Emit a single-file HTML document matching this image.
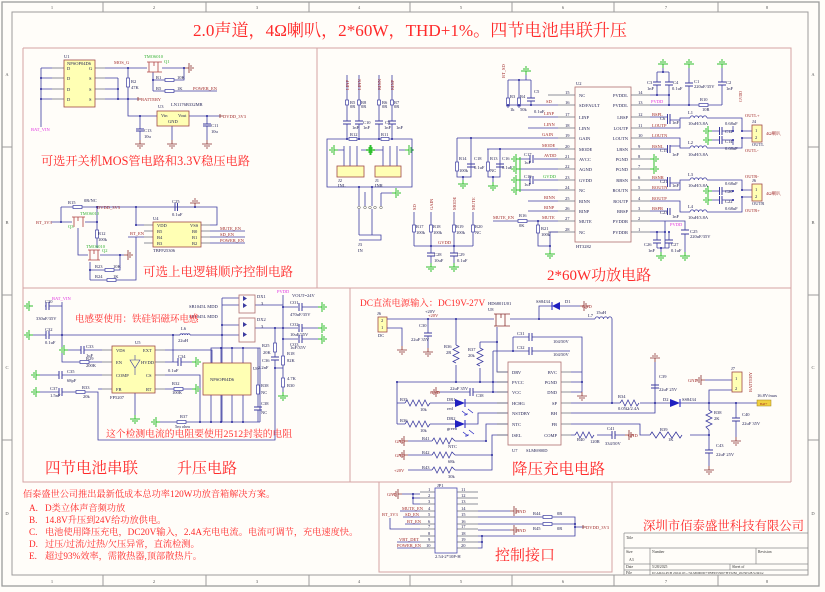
<!DOCTYPE html>
<html><head><meta charset="utf-8">
<style>
html,body{margin:0;padding:0;background:#fffdf9;}
svg{display:block;}
text{font-family:"Liberation Serif","Noto Serif CJK SC",serif;}
.w{stroke:#3c3ca0;fill:none;stroke-width:0.8}
.p{stroke:#6a6a7a;fill:none;stroke-width:0.7}
.bx{stroke:#d4a4a4;fill:none;stroke-width:1}
.fr{stroke:#9c9c9c;fill:none}
.s{fill:#1a1a50;font-size:4.5px}
.n{fill:#a02828;font-size:4.5px}
.g{fill:#30b030;font-size:4.5px}
.m{fill:#e030e0;font-size:4.5px}
.r{fill:#ff2a2a}
.ic{fill:#ffffb4;stroke:#a04848;stroke-width:0.8}
.icw{fill:#fffdf9;stroke:#b07070;stroke-width:0.8}
.res{fill:#fff;stroke:#3c3ca0;stroke-width:0.7}
.cp{stroke:#3c3ca0;stroke-width:1;fill:none}
.d{fill:#22229a}
</style></head><body>
<svg width="825" height="592" viewBox="0 0 825 592" xmlns="http://www.w3.org/2000/svg">
<defs>
<g id="gd" stroke="#8a3030" stroke-width="0.8" fill="none"><path d="M0 0V4M-5 4H5M-3 6H3M-1 8H1"/></g>
<g id="gg" stroke="#30c030" stroke-width="1" fill="none"><path d="M0 0V4M-5 4H5M-3 6H3M-1 8H1"/></g>
</defs>
<rect width="825" height="592" fill="#fffdf9"/>
<!-- frame -->
<rect x="2" y="2" width="817" height="584" class="fr" stroke-width="1.3"/>
<rect x="12" y="12" width="796" height="563" class="fr"/>
<path class="fr" d="M103 2V12M206 2V12M309 2V12M410 2V12M512 2V12M614 2V12M718 2V12M103 575V586M206 575V586M309 575V586M410 575V586M512 575V586M614 575V586M718 575V586M2 147H12M2 295H12M2 440H12M808 147H819M808 295H819M808 440H819"/>
<g font-size="4.5" fill="#555" text-anchor="middle">
<text x="52" y="9">1</text><text x="154" y="9">2</text><text x="257" y="9">3</text><text x="359" y="9">4</text><text x="461" y="9">5</text><text x="563" y="9">6</text><text x="666" y="9">7</text><text x="767" y="9">8</text>
<text x="52" y="583">1</text><text x="154" y="583">2</text><text x="257" y="583">3</text><text x="359" y="583">4</text><text x="461" y="583">5</text><text x="563" y="583">6</text><text x="666" y="583">7</text><text x="767" y="583">8</text>
<text x="7" y="76">A</text><text x="7" y="224">B</text><text x="7" y="369">C</text><text x="7" y="515">D</text>
<text x="813" y="76">A</text><text x="813" y="224">B</text><text x="813" y="369">C</text><text x="813" y="515">D</text>
</g>
<!-- section boxes -->
<path class="bx" d="M23 48H791V482M317 48V288M23 48V482H350V288M23 288H791M350 482H791"/>
<rect x="379" y="482" width="233" height="90" class="bx"/>

<!-- main title -->
<text x="193" y="36" font-size="17.1" class="r">2.0声道，4Ω喇叭，2*60W，THD+1%。四节电池串联升压</text>

<!-- ============ SECTION 1 ============ -->
<rect x="64" y="60" width="31" height="47" class="ic"/>
<text x="64" y="58" class="s">U1</text>
<text x="67" y="65" class="s" font-size="3.6">NPSOP04D6</text>
<g class="s" font-size="4"><text x="67" y="70">D</text><text x="67" y="80">D</text><text x="67" y="91">D</text><text x="67" y="101">D</text><text x="89" y="70">G</text><text x="89" y="80">S</text><text x="89" y="91">S</text><text x="89" y="101">S</text></g>
<path class="p" d="M52 68H64M52 78H64M52 89H64M52 99H64M95 68H105M95 78H105M95 89H105M95 99H105"/>
<path class="w" d="M41 68H52M41 78H52M41 89H52M41 99H52M41 68V127M105 68H147M105 78H118M105 89H118M105 99H138M118 78V99M128 68V78M128 87V116H157M153 72V91M153 80H165M174 80H184V68M153 91H165M174 91H217M162 68H185M189 116H220M140 116V129M140 131V140M172 126V140M207 116V124M207 126V140"/>
<rect x="126.5" y="78" width="3" height="9" class="res"/>
<rect x="165" y="78.5" width="9" height="3" class="res"/>
<rect x="165" y="89.5" width="9" height="3" class="res"/>
<path class="cp" d="M136 129H144M136 131H144M203 124H211M203 126H211"/>
<path stroke="#b04040" fill="none" stroke-width="0.8" d="M147 62H162M149 62V72M154 62V66M158 62V72M147 72H162"/>
<text x="144" y="58" class="g" font-size="3.5">TMO6010</text><text x="164" y="63" class="g">Q1</text>
<g class="d"><circle cx="41" cy="78" r="1"/><circle cx="41" cy="89" r="1"/><circle cx="41" cy="99" r="1"/><circle cx="118" cy="89" r="1"/><circle cx="118" cy="99" r="1"/><circle cx="128" cy="68" r="1"/><circle cx="128" cy="99" r="1"/><circle cx="184" cy="68" r="1"/><circle cx="140" cy="116" r="1"/><circle cx="207" cy="116" r="1"/><circle cx="153" cy="80" r="1"/></g>
<use href="#gd" transform="translate(185,68) rotate(-90)"/>
<use href="#gd" transform="translate(140,140)"/><use href="#gd" transform="translate(172,140)"/><use href="#gd" transform="translate(207,140)"/>
<text x="114" y="64" class="n">MOS_G</text><text x="131" y="83" class="s">R2</text><text x="131" y="89" class="s">47K</text>
<text x="156" y="79" class="s">R1</text><text x="177" y="79" class="s">10K</text><text x="156" y="90" class="s">R5</text><text x="177" y="90" class="s">1K</text>
<text x="193" y="90" class="n">POWER_EN</text>
<path d="M138 97V101M138 99H141" stroke="#8a3030" stroke-width="0.8"/><text x="141" y="101" class="n">BATTERY</text>
<rect x="157" y="111" width="32" height="15" class="ic"/>
<text x="158" y="108" class="s" font-size="4">U3</text><text x="171" y="106" class="s" font-size="4">LN1176B332MR</text>
<text x="161" y="117" class="s" font-size="3.8">Vin</text><text x="178" y="117" class="s" font-size="3.8">Vout</text><text x="168" y="123" class="s" font-size="3.8">GND</text>
<path d="M220 114V118M220 116H223" stroke="#8a3030" stroke-width="0.8"/><text x="223" y="118" class="n">DVDD_3V3</text>
<text x="144" y="132" class="s">C13</text><text x="144" y="138" class="s">10u</text><text x="211" y="127" class="s">C11</text><text x="211" y="133" class="s">10u</text>
<text x="31" y="131" class="m">BAT_VIN</text>
<text x="41" y="165" font-size="12.2" class="r">可选开关机MOS管电路和3.3V稳压电路</text>

<!-- ============ SECTION 2 ============ -->
<path class="w" d="M61 207H73M82 207H97M61 207V222M51 222H72M85 222H97M97 207V230M97 238V248M97 207H217V225H210M136 207V225H144M128 237H144M210 231H245M210 237H245M210 243H245M78 228V255H88M100 255H124M90 262V280M90 270H105M114 270H120V255M90 280H107M116 280H136V237"/>
<path class="p" d="M144 225H153M144 231H153M144 237H153M144 243H153M201 225H210M201 231H210M201 237H210M201 243H210"/>
<rect x="73" y="205.5" width="9" height="3" class="res"/>
<rect x="95.5" y="230" width="3" height="8" class="res"/>
<rect x="105" y="268.5" width="9" height="3" class="res"/>
<rect x="107" y="278.5" width="9" height="3" class="res"/>
<path class="cp" d="M175 203V211M177.5 203V211"/>
<path stroke="#b04040" fill="none" stroke-width="0.8" d="M72 217H85M74 217V227M78 217V221M83 217V227M88 250H100M90 250V260M94 250V254M98 250V260M88 260H100"/>
<rect x="153" y="222" width="48" height="25" class="ic"/>
<g class="s" font-size="4"><text x="157" y="227">VDD</text><text x="157" y="233">B5</text><text x="157" y="239">B4</text><text x="157" y="245">B3</text><text x="190" y="227">VSS</text><text x="192" y="233">B0</text><text x="192" y="239">B1</text><text x="192" y="245">B2</text></g>
<text x="153" y="220" class="s" font-size="4">U4</text><text x="153" y="252" class="s" font-size="4">TBFP25306</text>
<use href="#gd" transform="translate(195,207) rotate(180)"/>
<use href="#gd" transform="translate(124,255) rotate(-90)"/>
<g class="d"><circle cx="97" cy="207" r="1"/><circle cx="97" cy="222" r="1"/><circle cx="136" cy="207" r="1"/><circle cx="136" cy="225" r="1"/><circle cx="61" cy="222" r="1"/><circle cx="90" cy="270" r="1"/><circle cx="120" cy="255" r="1"/><circle cx="195" cy="207" r="1"/></g>
<text x="68" y="204" class="s">R15</text><text x="84" y="202" class="s">0R/NC</text><text x="36" y="224" class="n">BT_3V3</text>
<text x="97" y="209" class="n">DVDD_3V3</text><text x="98" y="235" class="s">R12</text><text x="98" y="241" class="s">100k</text>
<text x="172" y="203" class="s">C25</text><text x="172" y="216" class="s">0.1uF</text>
<text x="130" y="235" class="n">BT_EN</text>
<text x="220" y="230" class="n">MUTE_EN</text><text x="220" y="236" class="n">SD_EN</text><text x="220" y="242" class="n">POWER_EN</text>
<text x="80" y="215" class="g" font-size="3.5">TMO6010</text><text x="68" y="228" class="g">Q3</text>
<text x="86" y="248" class="g" font-size="3.5">TMO6010</text><text x="102" y="252" class="g">Q2</text>
<text x="95" y="268" class="s">R23</text><text x="113" y="268" class="s">10K</text><text x="95" y="278" class="s">R24</text><text x="113" y="278" class="s">1K</text>
<text x="143" y="276" font-size="12.5" class="r">可选上电逻辑顺序控制电路</text>

<!-- ============ SECTION 3 ============ -->
<path class="w" d="M347 75V100M347 105V121M347 124V139M359 75V100M359 105V121M359 124V139M379 75V100M379 105V121M379 124V139M392 75V100M392 105V121M392 124V139M327 139H412V187H327ZM344 146V166M350 146V166M357 146V166M383 146V166M390 146V166M397 146V166M338 150H344M361 150H366M375 150H383M399 150H405M359 187V206M372 187V206M365 192V206M381 193H392M381 193V206M359 209V235M372 209V235M359 235H381V240H359"/>
<g class="res"><rect x="345.5" y="100" width="3" height="5"/><rect x="357.5" y="100" width="3" height="5"/><rect x="377.5" y="100" width="3" height="5"/><rect x="390.5" y="100" width="3" height="5"/><rect x="349" y="137.5" width="8" height="3"/><rect x="381" y="137.5" width="8" height="3"/></g>
<path class="cp" d="M343 121H351M343 124H351M355 121H363M355 124H363M375 121H383M375 124H383M388 121H396M388 124H396"/>
<rect x="337" y="166" width="27" height="11" class="ic"/><rect x="375" y="166" width="26" height="11" class="ic"/>
<use href="#gg" transform="translate(338,150) rotate(90)"/><use href="#gg" transform="translate(366,150) rotate(-90)"/>
<use href="#gg" transform="translate(375,150) rotate(90)"/><use href="#gg" transform="translate(405,150) rotate(-90)"/>
<use href="#gg" transform="translate(392,193) rotate(-90)"/>
<g fill="none" stroke="#555" stroke-width="0.5"><circle cx="359" cy="207.5" r="1.3"/><circle cx="365" cy="207.5" r="1.3"/><circle cx="370" cy="207.5" r="1.3"/><circle cx="375" cy="207.5" r="1.3"/><circle cx="381" cy="207.5" r="1.3"/></g>
<g class="n" font-size="3.8"><text transform="translate(349,90) rotate(-90)">LINP</text><text transform="translate(361,90) rotate(-90)">LINN</text><text transform="translate(381,90) rotate(-90)">RINN</text><text transform="translate(394,90) rotate(-90)">RINP</text></g>
<g class="s" font-size="3.8"><text x="350" y="104">R5</text><text x="350" y="108">0R</text><text x="361" y="104">R8</text><text x="361" y="108">0R</text><text x="382" y="104">R6</text><text x="382" y="108">0R</text><text x="394" y="104">R7</text><text x="394" y="108">0R</text>
<text x="363" y="124">C10</text><text x="352" y="129">1nF</text><text x="363" y="129">1nF</text><text x="385" y="124">C9</text><text x="384" y="129">1nF</text><text x="396" y="129">1nF</text>
<text x="350" y="136">R12</text><text x="381" y="136">R11</text><text x="338" y="182">J2</text><text x="338" y="187">INL</text><text x="375" y="182">J1</text><text x="375" y="187">INR</text><text x="358" y="246">J3</text><text x="358" y="252">IN</text></g>
<g class="d"><circle cx="347" cy="139" r="1"/><circle cx="359" cy="139" r="1"/><circle cx="379" cy="139" r="1"/><circle cx="392" cy="139" r="1"/><circle cx="359" cy="187" r="1"/><circle cx="372" cy="187" r="1"/></g>

<!-- U2 -->
<rect x="575" y="87" width="56" height="155" class="icw"/>
<text x="576" y="85" class="s">U2</text><text x="576" y="248" class="s">HT3282</text>
<path class="p" d="M548 95H575M558 105H575M558 117H575M558 128H575M558 138H575M558 149H575M558 159H575M558 169H575M558 180H575M558 190H575M558 201H575M558 211H575M558 221H575M548 232H575M631 95H650M631 105H650M631 117H650M631 128H650M631 138H650M631 149H650M631 159H650M631 169H650M631 180H650M631 190H650M631 201H650M631 211H650M631 221H650M631 232H650"/>
<g class="s" font-size="4.2"><text x="579" y="97">NC</text><text x="579" y="107">SD/FAULT</text><text x="579" y="119">LINP</text><text x="579" y="130">LINN</text><text x="579" y="140">GAIN</text><text x="579" y="151">MODE</text><text x="579" y="161">AVCC</text><text x="579" y="171">AGND</text><text x="579" y="182">GVDD</text><text x="579" y="192">NC</text><text x="579" y="203">RINN</text><text x="579" y="213">RINP</text><text x="579" y="223">MUTE</text><text x="579" y="234">NC</text></g>
<g class="s" font-size="4.2" text-anchor="end"><text x="628" y="97">PVDDL</text><text x="628" y="107">PVDDL</text><text x="628" y="119">LBSP</text><text x="628" y="130">LOUTP</text><text x="628" y="140">LOUTN</text><text x="628" y="151">LBSN</text><text x="628" y="161">PGND</text><text x="628" y="171">PGND</text><text x="628" y="182">RBSN</text><text x="628" y="192">ROUTN</text><text x="628" y="203">ROUTP</text><text x="628" y="213">RBSP</text><text x="628" y="223">PVDDR</text><text x="628" y="234">PVDDR</text></g>
<g class="s" font-size="3.5"><text x="565" y="94">15</text><text x="565" y="104">16</text><text x="565" y="116">17</text><text x="565" y="127">18</text><text x="565" y="137">19</text><text x="565" y="148">20</text><text x="565" y="158">21</text><text x="565" y="168">22</text><text x="565" y="179">23</text><text x="565" y="189">24</text><text x="565" y="200">25</text><text x="565" y="210">26</text><text x="565" y="220">27</text><text x="565" y="231">28</text>
<text x="638" y="94">14</text><text x="638" y="104">13</text><text x="638" y="116">12</text><text x="638" y="127">11</text><text x="638" y="137">10</text><text x="638" y="148">9</text><text x="638" y="158">8</text><text x="638" y="168">7</text><text x="638" y="179">6</text><text x="638" y="189">5</text><text x="638" y="200">4</text><text x="638" y="210">3</text><text x="638" y="220">2</text><text x="638" y="231">1</text></g>
<!-- left networks -->
<path class="w" d="M507 105H558M508 80V100M508 108V105M519 80V100M519 108V105M531 80V98M531 101V105M508 80H531M526 80V75M528 117H558M528 128H558M457 138H558M457 138V162M457 171V177H471V138M471 138V164M471 167V177M463 177V180M487 149H558M488 149V162M488 171V177H500V149M500 167V177M493 177V182M520 159H530M534 159H558M520 169H558M520 180H530M534 180H558M520 190H558M528 201H558M528 211H558M493 221H518M527 221H558M538 221V225M538 233V246H550V232H558M550 246V250"/>
<g class="res"><rect x="506.5" y="98" width="3" height="8"/><rect x="517.5" y="98" width="3" height="8"/><rect x="455.5" y="162" width="3" height="9"/><rect x="486.5" y="162" width="3" height="9"/><rect x="518" y="219.5" width="9" height="3"/><rect x="536.5" y="225" width="3" height="8"/></g>
<path class="cp" d="M527 98H535M527 101H535M467 164H475M467 167H475M496 164H504M496 167H504M530 155V163M533 155V163M530 176V184M533 176V184"/>
<use href="#gg" transform="translate(526,75) rotate(180)"/>
<use href="#gg" transform="translate(463,180)"/><use href="#gg" transform="translate(493,182)"/><use href="#gg" transform="translate(550,250)"/>
<use href="#gg" transform="translate(520,159) rotate(90)"/><use href="#gg" transform="translate(520,169) rotate(90)"/><use href="#gg" transform="translate(520,180) rotate(90)"/><use href="#gg" transform="translate(520,190) rotate(90)"/>
<path stroke="#30c030" stroke-width="1" d="M520 157V192"/>
<g class="d"><circle cx="508" cy="105" r="1"/><circle cx="519" cy="105" r="1"/><circle cx="531" cy="105" r="1"/><circle cx="519" cy="80" r="1"/><circle cx="471" cy="138" r="1"/><circle cx="500" cy="149" r="1"/><circle cx="463" cy="177" r="1"/><circle cx="493" cy="177" r="1"/><circle cx="538" cy="221" r="1"/><circle cx="550" cy="246" r="1"/></g>
<g class="n" font-size="4.2"><text transform="translate(505,78) rotate(-90)">BT_SD</text><text x="546" y="103">SD</text><text x="544" y="115">LINP</text><text x="544" y="126">LINN</text><text x="542" y="136">GAIN</text><text x="542" y="147">MODE</text><text x="544" y="157">AVDD</text><text x="544" y="199">RINN</text><text x="544" y="209">RINP</text><text x="542" y="219">MUTE</text><text x="493" y="219">MUTE_EN</text></g>
<text x="543" y="178" class="g" font-size="4.2">GVDD</text>
<g class="s" font-size="3.8"><text x="510" y="98">R3</text><text x="510" y="111">1k</text><text x="520" y="98">R4</text><text x="520" y="111">50k</text><text x="534" y="93">C5</text><text x="534" y="113">0.1uF</text>
<text x="459" y="160">R14</text><text x="459" y="172">100k</text><text x="474" y="160">C18</text><text x="474" y="169">0.1uF</text><text x="490" y="160">R13</text><text x="490" y="172">NC</text><text x="502" y="160">C16</text><text x="502" y="169">0.1uF</text>
<text x="524" y="156">C17</text><text x="524" y="164">1uF</text><text x="524" y="178">C19</text><text x="524" y="186">1uF</text><text x="519" y="217">R16</text><text x="519" y="227">0K</text><text x="541" y="230">R21</text><text x="541" y="236">100k</text></g>
<!-- bottom left resistors -->
<path class="w" d="M414 212V225M414 232V246M431 212V225M431 232V246M454 212V225M454 232V246M473 212V225M473 232V246M414 246H473M431 246V253M431 256V263M454 246V253M454 256V263"/>
<g class="res"><rect x="412.5" y="225" width="3" height="7"/><rect x="429.5" y="225" width="3" height="7"/><rect x="452.5" y="225" width="3" height="7"/><rect x="471.5" y="225" width="3" height="7"/></g>
<path class="cp" d="M427 253H435M427 256H435M450 253H458M450 256H458"/>
<use href="#gg" transform="translate(431,263)"/><use href="#gg" transform="translate(454,263)"/>
<g class="d"><circle cx="431" cy="246" r="1"/><circle cx="454" cy="246" r="1"/></g>
<g class="n" font-size="3.8"><text transform="translate(416,210) rotate(-90)">SD</text><text transform="translate(433,210) rotate(-90)">GAIN</text><text transform="translate(456,210) rotate(-90)">MODE</text><text transform="translate(475,210) rotate(-90)">MUTE</text><text x="438" y="244">GVDD</text></g>
<g class="s" font-size="3.8"><text x="416" y="228">R17</text><text x="416" y="234">100k</text><text x="433" y="228">R18</text><text x="433" y="234">100k</text><text x="456" y="228">R19</text><text x="456" y="234">100k</text><text x="475" y="228">R20</text><text x="475" y="234">NC</text>
<text x="434" y="256">C28</text><text x="434" y="262">10uF</text><text x="457" y="256">C29</text><text x="457" y="262">0.1uF</text></g>
<!-- right networks -->
<path class="w" d="M650 95H669M650 105H722M657 72V82M657 85V95M669 72V82M669 85V105M657 72H669M663 72V68M689 68V83M689 86V105M722 68V82M722 85V105M650 117H667M670 120H680M650 128H680V118H690M707 118H742V131H752M650 138H680V148H690M707 148H742V138H752M650 149H667M670 146H680M712 131H719M722 131H733M712 140H719M722 140H733M733 131V126M733 140V145M650 180H667M670 183H680M650 190H680V180H690M707 180H742V190H752M650 201H680V212H690M707 212H742V197H752M650 211H667M712 191H719M722 191H733M712 200H719M722 200H733M650 221H665M650 232H665M665 221V248M657 232V240M657 243V248M669 232V240M669 243V248M657 248H669M661 248V252M665 221H685V230M685 234V252"/>
<rect x="699" y="103.5" width="9" height="3" class="res"/>
<path class="cp" d="M653 82H661M653 85H661M665 82H673M665 85H673M685 83H693M685 86H693M718 82H726M718 85H726M667.5 114V124M670 114V124M667.5 145V153M670 145V153M667.5 177V187M670 177V187M667.5 208V215M670 208V215M719.5 127V135M722 127V135M719.5 136V144M722 136V144M719.5 187V195M722 187V195M719.5 196V204M722 196V204M653 240H661M653 243H661M665 240H673M665 243H673M681 230H689M681 234H689"/>
<g fill="none" stroke="#3c3ca0" stroke-width="0.8"><path d="M690 118a2.1 2.1 0 0 1 4.25 0a2.1 2.1 0 0 1 4.25 0a2.1 2.1 0 0 1 4.25 0a2.1 2.1 0 0 1 4.25 0"/><path d="M690 148a2.1 2.1 0 0 1 4.25 0a2.1 2.1 0 0 1 4.25 0a2.1 2.1 0 0 1 4.25 0a2.1 2.1 0 0 1 4.25 0"/><path d="M690 180a2.1 2.1 0 0 1 4.25 0a2.1 2.1 0 0 1 4.25 0a2.1 2.1 0 0 1 4.25 0a2.1 2.1 0 0 1 4.25 0"/><path d="M690 212a2.1 2.1 0 0 1 4.25 0a2.1 2.1 0 0 1 4.25 0a2.1 2.1 0 0 1 4.25 0a2.1 2.1 0 0 1 4.25 0"/></g>
<use href="#gg" transform="translate(663,68) rotate(180)"/><use href="#gg" transform="translate(689,68) rotate(180)"/><use href="#gg" transform="translate(722,68) rotate(180)"/>
<use href="#gg" transform="translate(712,131) rotate(90)"/><use href="#gg" transform="translate(712,140) rotate(90)"/><use href="#gg" transform="translate(712,191) rotate(90)"/><use href="#gg" transform="translate(712,200) rotate(90)"/>
<use href="#gg" transform="translate(650,159) rotate(-90)"/><use href="#gg" transform="translate(650,169) rotate(-90)"/>
<use href="#gg" transform="translate(661,252)"/><use href="#gg" transform="translate(685,252)"/>
<rect x="752" y="125" width="10" height="17" class="ic"/><rect x="752" y="184" width="10" height="17" class="ic"/>
<g class="s" font-size="3.8"><text x="755" y="132">1</text><text x="755" y="139">2</text><text x="755" y="191">1</text><text x="755" y="198">2</text><text x="752" y="123">J4</text><text x="752" y="146">OUTL</text><text x="752" y="182">J6</text><text x="752" y="205">OUTR</text>
<text x="647" y="84">C3</text><text x="647" y="90">1nF</text><text x="673" y="84">C4</text><text x="672" y="90">0.1uF</text><text x="694" y="83">C1</text><text x="694" y="88">220uF/35V</text><text x="726" y="84">C2</text><text x="726" y="90">1nF</text><text x="700" y="101">R10</text><text x="702" y="111">10R</text>
<text x="660" y="120">C6</text><text x="672" y="124">1nF</text><text x="688" y="114">L1</text><text x="688" y="125">10uH/3.8A</text><text x="688" y="144">L2</text><text x="688" y="156">10uH/3.8A</text><text x="725" y="125">0.68uF</text><text x="725" y="133">C12</text><text x="725" y="143">C14</text><text x="725" y="150">0.68uF</text>
<text x="660" y="152">C15</text><text x="672" y="156">1nF</text><text x="660" y="183">C21</text><text x="672" y="187">1nF</text><text x="688" y="176">L3</text><text x="688" y="187">10uH/3.8A</text><text x="688" y="208">L4</text><text x="688" y="219">10uH/3.8A</text><text x="725" y="185">0.68uF</text><text x="725" y="193">C20</text><text x="725" y="203">C22</text><text x="725" y="210">0.68uF</text>
<text x="660" y="214">C23</text><text x="672" y="218">1nF</text><text x="644" y="246">C26</text><text x="648" y="252">1nF</text><text x="671" y="246">C27</text><text x="671" y="252">0.1uF</text><text x="690" y="233">C25</text><text x="690" y="238">220uF/35V</text></g>
<g class="n" font-size="4"><text x="652" y="116">BSPL</text><text x="652" y="127">LOUTP</text><text x="652" y="137">LOUTN</text><text x="652" y="148">BSNL</text><text x="652" y="179">BSNR</text><text x="652" y="189">ROUTN</text><text x="652" y="200">ROUTP</text><text x="652" y="210">BSPR</text>
<text x="745" y="117">OUTL+</text><text x="745" y="152">OUTL-</text><text x="745" y="178">OUTR-</text><text x="745" y="212">OUTR+</text><text transform="translate(742,102) rotate(-90)" font-size="3.8">GVDD</text></g>
<text x="766" y="135" class="n" font-size="4.2">4Ω喇叭</text><text x="766" y="195" class="n" font-size="4.2">4Ω喇叭</text>
<text x="651" y="103" class="m">PVDD</text><text x="670" y="226" class="m">PVDD</text>
<g class="d"><circle cx="657" cy="95" r="1"/><circle cx="669" cy="95" r="1"/><circle cx="669" cy="105" r="1"/><circle cx="689" cy="105" r="1"/><circle cx="663" cy="72" r="1"/><circle cx="742" cy="131" r="1"/><circle cx="742" cy="138" r="1"/><circle cx="733" cy="131" r="1"/><circle cx="733" cy="140" r="1"/><circle cx="742" cy="190" r="1"/><circle cx="742" cy="197" r="1"/><circle cx="733" cy="191" r="1"/><circle cx="733" cy="200" r="1"/><circle cx="665" cy="232" r="1"/><circle cx="657" cy="232" r="1"/><circle cx="669" cy="232" r="1"/><circle cx="661" cy="248" r="1"/></g>
<text x="547" y="280" font-size="15" class="r">2*60W功放电路</text>

<!-- ============ SECTION 4 (boost) ============ -->
<text x="52" y="300" class="m">BAT_VIN</text>
<path class="w" d="M62 302V362H80M89 362H102M45 306H46M49 306H62M33 335H46M49 335H180M190 335H222M68 350H81M84 350H102M40 375H59M62 375H102M40 392H59M62 392H76M85 392H98V440H275V368M98 389H102M165 350H212V363M165 362H173V335M165 362H178M181 362H192M165 375H200V422M165 389H174M183 389H192M135 393V415M222 298H239M222 305H239M222 325H239M222 335H239M222 298V422M255 305H283M255 328H283M283 295V346M283 307H298M302 307H318M283 328H298M302 328H318M283 339H298M302 339H318M275 328V343M275 352V357M275 360V440M275 368H283M283 356V365M283 346V356M283 365V378M283 387V392M160 422H177M186 422H260M211 363V348H260V422M221 348V363M232 348V363M243 348V363M211 395V422M221 395V422M232 395V422M243 395V422M258 348V385M258 394V407M258 410V422"/>
<path class="p" d="M102 350H112M102 362H112M102 375H112M102 389H112M155 350H165M155 362H165M155 375H165M155 389H165"/>
<g class="res"><rect x="80" y="360.5" width="9" height="3"/><rect x="76" y="390.5" width="9" height="3"/><rect x="174" y="387.5" width="9" height="3"/><rect x="273.5" y="343" width="3" height="9"/><rect x="281.5" y="356" width="3" height="9"/><rect x="281.5" y="378" width="3" height="9"/><rect x="177" y="420.5" width="9" height="3"/><rect x="256.5" y="385" width="3" height="9"/></g>
<path class="cp" d="M46 302V310M49 302V310M46 331V339M49 331V339M81 346V354M84 346V354M59 371V379M62 371V379M59 388V396M62 388V396M178 358V366M181 358V366M299 303V311M302 303V311M299 324V332M302 324V332M299 335V343M302 335V343M271 357H279M271 360H279M254 407H262M254 410H262"/>
<path fill="none" stroke="#3c3ca0" stroke-width="0.8" d="M180 335a1.25 1.25 0 0 1 2.5 0a1.25 1.25 0 0 1 2.5 0a1.25 1.25 0 0 1 2.5 0a1.25 1.25 0 0 1 2.5 0"/>
<use href="#gg" transform="translate(33,306) rotate(90)"/><use href="#gg" transform="translate(33,335) rotate(90)"/><use href="#gg" transform="translate(68,350) rotate(90)"/><use href="#gg" transform="translate(40,375) rotate(90)"/><use href="#gg" transform="translate(40,392) rotate(90)"/>
<use href="#gg" transform="translate(192,362) rotate(-90)"/><use href="#gg" transform="translate(192,389) rotate(-90)"/><use href="#gg" transform="translate(135,415)"/><use href="#gg" transform="translate(160,422) rotate(90)"/>
<use href="#gg" transform="translate(318,307) rotate(-90)"/><use href="#gg" transform="translate(318,328) rotate(-90)"/><use href="#gg" transform="translate(318,339) rotate(-90)"/><use href="#gg" transform="translate(283,392)"/>
<rect x="112" y="346" width="43" height="47" class="ic"/>
<g class="s" font-size="4.2"><text x="116" y="352">VDS</text><text x="116" y="364">EN</text><text x="116" y="377">COMP</text><text x="116" y="391">FB</text><text x="143" y="352">EXT</text><text x="141" y="364">HVDD</text><text x="146" y="377">CS</text><text x="146" y="391">RT</text></g>
<path fill="none" stroke="#3c3ca0" stroke-width="0.6" d="M130 360H140L135 368ZM135 355V360M135 368V375"/>
<text x="135" y="344" class="s" font-size="4">U5</text><text x="110" y="399" class="s" font-size="4">FP5207</text>
<rect x="239" y="295" width="16" height="18" fill="none" stroke="#b07070" stroke-width="0.8"/><rect x="239" y="318" width="16" height="24" fill="none" stroke="#b07070" stroke-width="0.8"/>
<path fill="#3c3ca0" d="M243 296L243 301L247 298.5ZM243 303L243 308L247 305.5ZM243 322L243 327L247 324.5ZM243 332L243 337L247 334.5Z"/>
<rect x="203" y="363" width="48" height="32" class="ic"/>
<text x="210" y="381" class="s" font-size="4">NPSOP04D6</text><text x="253" y="370" class="s" font-size="4">U6</text>
<g class="d"><circle cx="62" cy="335" r="1"/><circle cx="173" cy="335" r="1"/><circle cx="222" cy="335" r="1"/><circle cx="222" cy="325" r="1"/><circle cx="283" cy="307" r="1"/><circle cx="283" cy="328" r="1"/><circle cx="283" cy="339" r="1"/><circle cx="275" cy="328" r="1"/><circle cx="275" cy="368" r="1"/><circle cx="200" cy="422" r="1"/><circle cx="211" cy="422" r="1"/><circle cx="221" cy="422" r="1"/><circle cx="232" cy="422" r="1"/><circle cx="243" cy="422" r="1"/><circle cx="221" cy="348" r="1"/><circle cx="232" cy="348" r="1"/><circle cx="243" cy="348" r="1"/></g>
<g class="s" font-size="3.8"><text x="45" y="303">C30</text><text x="36" y="320">330uF/35V</text><text x="45" y="331">C32</text><text x="45" y="344">0.1uF</text><text x="86" y="348">C33</text><text x="86" y="357">1uF</text><text x="86" y="360">R29</text><text x="86" y="367">200K</text><text x="67" y="373">C35</text><text x="67" y="382">68pF</text><text x="50" y="390">C37</text><text x="50" y="397">1.5nF</text><text x="82" y="389">R33</text><text x="83" y="398">20k</text>
<text x="181" y="330">L6</text><text x="178" y="342">22uH</text><text x="178" y="358">C34</text><text x="168" y="372">0.1uF</text><text x="172" y="385">R32</text><text x="172" y="394">100K</text><text x="180" y="418">R37</text><text x="175" y="428">5m ohm</text>
<text x="189" y="308">SB1045L MDD</text><text x="189" y="318">SB1045L MDD</text><text x="257" y="298">DX1</text><text x="257" y="321">DX2</text><text x="261" y="305">3</text><text x="261" y="328">3</text>
<text x="292" y="297">VOUT=24V</text><text x="290" y="304">CO1</text><text x="290" y="316">470uF/35V</text><text x="290" y="326">CO2</text><text x="290" y="336">10uF/35V</text><text x="290" y="346">CO3</text><text x="290" y="349">1uF/35V</text>
<text x="262" y="347">R25</text><text x="263" y="354">20K</text><text x="262" y="362">C36</text><text x="258" y="369">2.2nF</text><text x="287" y="355">R18</text><text x="287" y="362">82K</text><text x="287" y="380">4.7K</text><text x="287" y="387">R30</text>
<text x="261" y="387">R38</text><text x="261" y="394">NC</text><text x="261" y="405">C38</text><text x="261" y="414">NC</text></g>
<text x="277" y="293" class="m">PVDD</text>
<text x="75" y="322" font-size="9.5" class="r">电感要使用：铁硅铝磁环电感</text>
<text x="106" y="437" font-size="9.8" class="r">这个检测电流的电阻要使用2512封装的电阻</text>
<text x="45" y="473" font-size="15.5" class="r">四节电池串联</text>
<text x="177" y="473" font-size="15" class="r">升压电路</text>

<!-- ============ SECTION 5 (charger) ============ -->
<text x="360" y="306" font-size="9.3" class="r">DC直流电源输入：DC19V-27V</text>
<rect x="378" y="317" width="9" height="15" class="ic"/>
<g class="s" font-size="3.8"><text x="377" y="315">J6</text><text x="381" y="322">2</text><text x="381" y="329">1</text><text x="378" y="337">DC</text></g>
<path class="w" d="M387 319H494M387 328H402V346M428 319V333M428 336V348M456 319V345M510 319H595M612 319V403M539 319V306H552M560 306H580M480 342H497M497 327V372H508M480 342V348M480 368V382M456 365V382M397 382H508M397 382V424M513 337H529M532 337H582V392M493 351H529M532 351H570M493 351V392M513 337V351M440 392H470M473 392H508M397 403H405M430 403H455M465 403H508M397 424H405M430 424H455M465 424H478V413H508M408 441H432M455 441H486V424H508M408 455H432M455 455H492M408 470H432M455 470H492V435H508M571 372H582M571 382H582M571 392H582M571 403H620M640 403H670M680 403H757M571 413H655V362M571 424H640V435H650M690 435H709M571 435H575M597 435H612M615 435H625M709 403V410M709 430V450M709 453V466M736 403V418M736 421V437M705 380H732M732 390H709V403"/>
<path class="p" d="M497 372H508M497 382H508M497 392H508M497 403H508M497 413H508M497 424H508M497 435H508M561 372H571M561 382H571M561 392H571M561 403H571M561 413H571M561 424H571M561 435H571"/>
<g fill="none" stroke="#3c3ca0" stroke-width="0.8">
<path d="M456 345l3 1.5l-6 3l6 3l-6 3l6 3l-6 3l3 1.5"/>
<path d="M480 348l3 1.5l-6 3l6 3l-6 3l6 3l-6 3l3 1.5"/>
<path d="M405 403l2 -3l3 6l3 -6l3 6l3 -6l3 6l3 -6l3 6l2 -3"/>
<path d="M405 424l2 -3l3 6l3 -6l3 6l3 -6l3 6l3 -6l3 6l2 -3"/>
<path d="M432 441l2 -3l3 6l3 -6l3 6l3 -6l3 6l3 -6l3 3"/>
<path d="M432 455l2 -3l3 6l3 -6l3 6l3 -6l3 6l3 -6l3 3"/>
<path d="M432 470l2 -3l3 6l3 -6l3 6l3 -6l3 6l3 -6l3 3"/>
<path d="M620 403l2 -3l3 6l3 -6l3 6l3 -6l3 6l2 -3"/>
<path d="M650 435l2 -3l4 6l4 -6l4 6l4 -6l4 6l4 -6l4 6l2 -3"/>
<path d="M575 435l2 -3l3 6l3 -6l3 6l3 -6l3 6l2 -3"/>
<path d="M709 410l3 2l-6 3l6 3l-6 3l6 3l-6 3l3 3"/>
<path d="M595 319a2.1 2.1 0 0 1 4.25 0a2.1 2.1 0 0 1 4.25 0a2.1 2.1 0 0 1 4.25 0a2.1 2.1 0 0 1 4.25 0"/>
</g>
<path class="cp" d="M424 333H432M424 336H432M529 333V341M532 333V341M529 347V355M532 347V355M470 388V396M473 388V396M612 431V439M615 431V439M651 385H659M651 388H659M705 450H713M705 453H713M732 418H740M732 421H740"/>
<path fill="#2020c0" d="M560 302V310L552 306ZM455 399V407L465 403ZM455 420V428L465 424ZM670 399V407L680 403Z"/>
<path stroke="#2020c0" stroke-width="1" d="M552 302V310M465 399V407M465 424V428M465 420V428M680 399V407"/>
<path stroke="#2020c0" stroke-width="0.7" fill="none" d="M462 411l5 4M466 415h-2M467 415v-2M463 432l5 4M467 436h-2M468 436v-2M468 409l5 4M469 430l5 4"/>
<path stroke="#8a3030" stroke-width="0.8" fill="none" d="M494 314H510M496 314V326M501 314V318M505 314V326M494 326H510"/>
<use href="#gd" transform="translate(402,346)"/><use href="#gd" transform="translate(428,348)"/><use href="#gd" transform="translate(580,306) rotate(-90)"/><use href="#gd" transform="translate(582,392)"/><use href="#gd" transform="translate(440,392) rotate(90)"/><use href="#gd" transform="translate(408,441) rotate(90)"/><use href="#gd" transform="translate(408,455) rotate(90)"/><use href="#gd" transform="translate(625,435) rotate(-90)"/><use href="#gd" transform="translate(655,362) rotate(180)"/><use href="#gd" transform="translate(709,466)"/><use href="#gd" transform="translate(736,437)"/><use href="#gd" transform="translate(705,380) rotate(90)"/>
<rect x="508" y="362" width="53" height="83" class="icw"/>
<g class="s" font-size="4"><text x="512" y="374">DRV</text><text x="512" y="384">PVCC</text><text x="512" y="394">VCC</text><text x="512" y="405">HCHG</text><text x="512" y="415">NSTDBY</text><text x="512" y="426">NTC</text><text x="512" y="437">ISEL</text></g>
<g class="s" font-size="4" text-anchor="end"><text x="557" y="374">BVC</text><text x="557" y="384">PGND</text><text x="557" y="394">DND</text><text x="557" y="405">SP</text><text x="557" y="415">BH</text><text x="557" y="426">FB</text><text x="557" y="437">COMP</text></g>
<rect x="732" y="372" width="10" height="20" class="ic"/>
<rect x="757" y="400" width="14" height="6" fill="#f0d040" stroke="#a08020" stroke-width="0.5"/>
<g class="d"><circle cx="428" cy="319" r="1"/><circle cx="456" cy="319" r="1"/><circle cx="539" cy="319" r="1"/><circle cx="497" cy="342" r="1"/><circle cx="456" cy="382" r="1"/><circle cx="480" cy="382" r="1"/><circle cx="493" cy="382" r="1"/><circle cx="397" cy="382" r="1"/><circle cx="493" cy="392" r="1"/><circle cx="513" cy="351" r="1"/><circle cx="582" cy="382" r="1"/><circle cx="612" cy="403" r="1"/><circle cx="655" cy="403" r="1"/><circle cx="709" cy="403" r="1"/><circle cx="736" cy="403" r="1"/><circle cx="709" cy="435" r="1"/><circle cx="486" cy="441" r="1"/><circle cx="492" cy="455" r="1"/></g>
<g class="s" font-size="3.6"><text x="425" y="313">+20V</text><text x="419" y="327">C30</text><text x="411" y="341">22uF 35V</text><text x="444" y="348">R36</text><text x="446" y="354">2R</text><text x="468" y="351">R37</text><text x="468" y="357">20k</text><text x="488" y="305">HD6801U01</text><text x="488" y="311">U8</text><text x="536" y="303">SS8434</text><text x="565" y="303">D1</text><text x="588" y="317">L7</text><text x="596" y="314">15uH</text>
<text x="517" y="335">C31</text><text x="517" y="349">C32</text><text x="553" y="343">104/50V</text><text x="553" y="356">104/50V</text><text x="450" y="390">22uF 35V</text><text x="476" y="397">C38</text><text x="400" y="401">R35</text><text x="420" y="411">10k</text><text x="447" y="401">DR1</text><text x="447" y="410">red</text><text x="400" y="422">R36</text><text x="420" y="432">10k</text><text x="447" y="420">DR2</text><text x="447" y="430">green</text>
<text x="422" y="440">R41</text><text x="448" y="448">NTC</text><text x="422" y="454">R42</text><text x="448" y="463">68k</text><text x="422" y="469">R43</text><text x="448" y="478">30k</text><text x="512" y="452">U7</text><text x="526" y="452">SLM6900D</text>
<text x="618" y="398">R34</text><text x="618" y="410">0.05Ω/2.4A</text><text x="663" y="401">D2</text><text x="682" y="401">SS8434</text><text x="757" y="397">16.8V/max</text><text x="659" y="378">C39</text><text x="659" y="391">22uF 25V</text><text x="577" y="441">R40</text><text x="590" y="443">120R</text><text x="607" y="430">C41</text><text x="605" y="445">334/50V</text><text x="660" y="431">R39</text><text x="668" y="441">1K</text>
<text x="714" y="414">R38</text><text x="714" y="420">2K</text><text x="716" y="447">C43</text><text x="716" y="456">22uF 25V</text><text x="742" y="416">C40</text><text x="742" y="425">22uF 35V</text><text x="731" y="370">J7</text><text x="735" y="380">1</text><text x="735" y="390">2</text></g>
<g class="n" font-size="3.6"><text x="395" y="443">GND</text><text x="395" y="457">GND</text><text x="394" y="472">+20V</text><text x="430" y="394">GND</text><text x="688" y="382">GND</text><text x="582" y="308">GND</text><text x="628" y="437">GND</text><text x="428" y="317">+20V</text></g>
<text transform="translate(752,392) rotate(-90)" class="n" font-size="4">BATTERY</text>
<text x="760" y="405" fill="#a02020" font-size="3">BAT+</text>
<text x="512" y="474" font-size="15.5" class="r">降压充电电路</text>

<!-- ============ bottom text ============ -->
<g class="r" font-size="9.2">
<text x="23" y="497">佰泰盛世公司推出最新低成本总功率120W功放音箱解决方案。</text>
<text x="29" y="511">A.</text><text x="45" y="511">D类立体声音频功放</text>
<text x="29" y="523">B.</text><text x="45" y="523">14.8V升压到24V给功放供电。</text>
<text x="29" y="535">C.</text><text x="45" y="535">电池使用降压充电，DC20V输入，2.4A充电电流。电流可调节，充电速度快。</text>
<text x="29" y="547">D.</text><text x="45" y="547">过压/过流/过热/欠压异常，直流检测。</text>
<text x="29" y="559">E.</text><text x="45" y="559">超过93%效率，需散热器,顶部散热片。</text>
</g>

<!-- ============ SECTION 6 (control) ============ -->
<rect x="435" y="488" width="22" height="65" fill="#fffdf9" stroke="#4a4ab0" stroke-width="0.8"/>
<text x="437" y="487" class="s" font-size="4">JP1</text>
<path class="p" d="M420 492H435M420 498H435M420 504H435M420 511H435M420 517H435M420 524H435M420 529H435M420 536H435M420 542H435M420 548H435M457 492H478M457 498H478M457 504H478M457 511H478M457 517H478M457 524H478M457 529H478M457 536H478M457 542H478M457 548H478"/>
<g class="s" font-size="3.5"><text x="428" y="491">1</text><text x="428" y="497">2</text><text x="428" y="503">3</text><text x="428" y="510">4</text><text x="428" y="516">5</text><text x="428" y="523">6</text><text x="428" y="528">7</text><text x="428" y="535">8</text><text x="428" y="541">9</text><text x="426" y="547">10</text>
<text x="461" y="491">11</text><text x="461" y="497">12</text><text x="461" y="503">13</text><text x="461" y="510">14</text><text x="461" y="516">15</text><text x="461" y="523">16</text><text x="461" y="528">17</text><text x="461" y="535">18</text><text x="461" y="541">19</text><text x="461" y="547">20</text></g>
<path class="w" d="M402 494H420M413 494V504H420M413 498H420M400 511H420M403 517H420M405 524H420M390 518V529H420M397 542H420M397 548H420M478 511H510M478 517H543M552 517H575V527M478 524H543M552 524H575M478 530H510M478 536H575V527H583M482 536V548H478M482 542H478"/>
<g class="res"><rect x="543" y="515.5" width="9" height="3"/><rect x="543" y="522.5" width="9" height="3"/></g>
<use href="#gd" transform="translate(402,494) rotate(90)"/><use href="#gd" transform="translate(510,511) rotate(-90)"/><use href="#gd" transform="translate(510,530) rotate(-90)"/>
<g class="d"><circle cx="413" cy="494" r="1"/><circle cx="413" cy="498" r="1"/><circle cx="575" cy="524" r="1"/><circle cx="575" cy="527" r="1"/><circle cx="482" cy="536" r="1"/><circle cx="482" cy="542" r="1"/></g>
<g class="n" font-size="3.8"><text x="387" y="496">GND</text><text x="516" y="513">GND</text><text x="516" y="532">GND</text><text x="402" y="510">MUTE_EN</text><text x="405" y="516">SD_EN</text><text x="407" y="523">BT_EN</text><text x="382" y="516">BT_3V3</text><text x="399" y="541">VBT_DET</text><text x="397" y="547">POWER_EN</text></g>
<path d="M583 525V529M583 527H586" stroke="#8a3030" stroke-width="0.8"/><text x="586" y="529" class="n" font-size="4">DVDD_3V3</text>
<g class="s" font-size="3.6"><text x="533" y="515">R44</text><text x="557" y="515">0R</text><text x="533" y="530">R45</text><text x="557" y="530">0R</text><text x="435" y="558">2.54-2*10P-H</text></g>
<text x="495" y="560" font-size="15" class="r">控制接口</text>

<!-- company & title block -->
<text x="643" y="530" font-size="12.4" class="r">深圳市佰泰盛世科技有限公司</text>
<path stroke="#8a8a8a" fill="none" stroke-width="0.7" d="M624 533H808M624 533V575M624 548H808M624 564H808M624 570H808M650 548V575M756 548V564M730 564V570"/>
<g font-size="3.8" fill="#333"><text x="626" y="539">Title</text><text x="626" y="553">Size</text><text x="629" y="561">A3</text><text x="652" y="553">Number</text><text x="758" y="553">Revision</text><text x="626" y="568">Date</text><text x="652" y="568">5/28/2025</text><text x="732" y="568">Sheet  of</text><text x="626" y="574">File</text><text x="652" y="574" font-size="3.4">D:\AD24-PCB 2024110\...\SLM6900D+TBFP25306+HT3282_20250528.SchDoc</text></g>
</svg>
</body></html>
